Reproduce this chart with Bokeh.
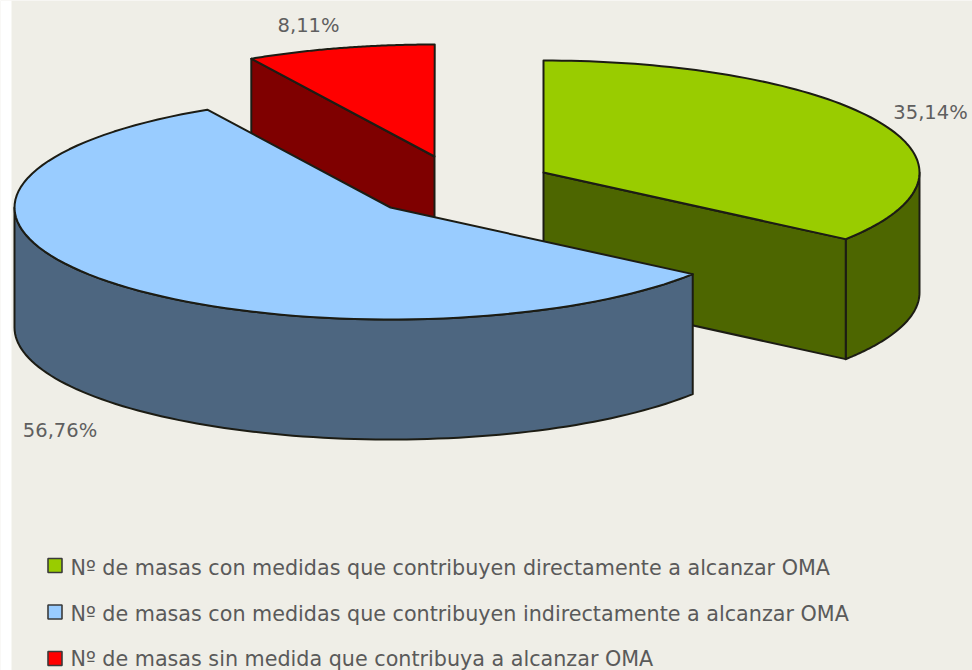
import math
from bokeh.plotting import figure
from bokeh.embed import file_html
from bokeh.resources import INLINE
from bokeh.core.properties import value
from bokeh.models import BoxAnnotation

# Data
categories = [
    "Nº de masas con medidas que contribuyen directamente a alcanzar OMA",
    "Nº de masas con medidas que contribuyen indirectamente a alcanzar OMA",
    "Nº de masas sin medida que contribuya a alcanzar OMA",
]
percentages = [35.14, 56.76, 8.11]
pct_labels = ["35,14%", "56,76%", "8,11%"]
top_colors = ["#99cc00", "#99ccff", "#ff0000"]
side_colors = ["#4d6600", "#4d6680", "#7f0000"]

# Layout (page pixels)
BG = "#efeee7"
RX, RY, DEPTH = 376, 112, 120
apexes = [(543, 172), (390, 207), (434, 156)]
label_pos = [(930, 112), (59.5, 430), (308, 25)]
legend_text_y = [567, 613, 658]
legend_box_y = [565, 611.5, 658]
EDGE = "#1c1c14"

p = figure(width=972, height=670, x_range=(0, 972), y_range=(670, 0),
           toolbar_location=None, output_backend="svg", min_border=0,
           background_fill_color=BG, border_fill_color=BG,
           outline_line_color=None)
p.axis.visible = False
p.grid.visible = False
p.add_layout(BoxAnnotation(left=0, right=11, fill_color="#ffffff", fill_alpha=1, line_color=None))


def arc(cx, cy, a0, a1, n=90):
    """Points on the ellipse; angles are degrees clockwise from the top."""
    pts = []
    for i in range(n + 1):
        t = math.radians(a0 + (a1 - a0) * i / n)
        pts.append((cx + RX * math.sin(t), cy - RY * math.cos(t)))
    return pts


def poly(pts, fill):
    p.patch([q[0] for q in pts], [q[1] for q in pts], fill_color=fill,
            line_color=EDGE, line_width=2, line_join="round")


# cumulative angles
angles = []
acc = 0.0
for v in percentages:
    angles.append((acc * 3.6, (acc + v) * 3.6))
    acc += v

# Painter's order: red, green, blue
for i in (2, 0, 1):
    a0, a1 = angles[i]
    cx, cy = apexes[i]
    # front rim: the part of the arc in the lower half of the ellipse
    lo, hi = max(a0, 90), min(a1, 270)
    if hi > lo:
        rim = arc(cx, cy, lo, hi)
        poly(rim + [(x, y + DEPTH) for x, y in reversed(rim)], side_colors[i])
    # cut face visible towards the viewer
    if i == 0:
        e = arc(cx, cy, a1, a1, 1)[0]
        poly([(cx, cy), e, (e[0], e[1] + DEPTH), (cx, cy + DEPTH)], side_colors[i])
    if i == 2:
        e = arc(cx, cy, a0, a0, 1)[0]
        poly([(cx, cy), e, (e[0], e[1] + DEPTH), (cx, cy + DEPTH)], side_colors[i])
    # top
    poly([(cx, cy)] + arc(cx, cy, a0, a1), top_colors[i])

# Percent labels
p.text([q[0] for q in label_pos], [q[1] for q in label_pos], text=pct_labels,
       text_font=value("DejaVu Sans"), text_font_size="19.5px", text_color="#5f5f5f",
       text_align="center", text_baseline="middle")

# Legend
p.scatter([54.5] * 3, legend_box_y, marker="square", size=14, fill_color=top_colors,
          line_color="#3a3a3a", line_width=1.6)
p.text([70] * 3, legend_text_y, text=categories, text_font=value("DejaVu Sans"),
       text_font_size="20.7px", text_color="#5a5a5a",
       text_align="left", text_baseline="middle")

open("out.html", "w").write(file_html(p, INLINE))
